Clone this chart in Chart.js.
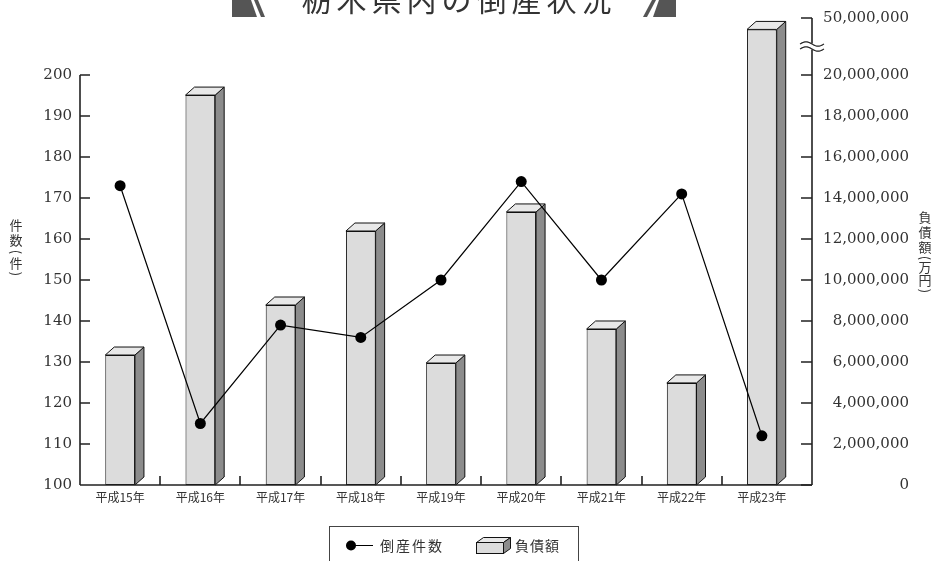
<!DOCTYPE html>
<html><head><meta charset="utf-8">
<script src="https://cdn.jsdelivr.net/npm/chart.js@4/dist/chart.umd.min.js"></script>
<style>html,body{margin:0;padding:0;background:#fff;}#wrap{width:942px;height:561px;position:relative;overflow:hidden}</style>
</head><body><div id="wrap"><canvas id="c" width="942" height="561"></canvas></div>
<script>
// ---- data ----
const categories = ['平成15年','平成16年','平成17年','平成18年','平成19年','平成20年','平成21年','平成22年','平成23年'];
const bankruptcyCounts = [173, 115, 139, 136, 150, 174, 150, 171, 112];
const debtAmounts = [6340000, 19020000, 8780000, 12390000, 5950000, 13320000, 7610000, 4980000, 44000000];
const leftTicks = [100,110,120,130,140,150,160,170,180,190,200];
const rightTicks = [0,2000000,4000000,6000000,8000000,10000000,12000000,14000000,16000000,18000000,20000000,50000000];
const titleText = '栃木県内の倒産状況';
const leftAxisTitle = ['件','数','(','件',')'];
const rightAxisTitle = ['負','債','額','(','万','円',')'];
const legendLabels = ['倒産件数','負債額'];

// broken right axis: values above 20,000,000 are compressed
const BREAK_FROM = 20000000, BREAK_TO = 50000000, BREAK_SHOWN = 22780000;
const K = (BREAK_SHOWN - BREAK_FROM) / (BREAK_TO - BREAK_FROM);
function toDisplay(v){ return v <= BREAK_FROM ? v : BREAK_FROM + (v - BREAK_FROM) * K; }
function fromDisplay(d){ return d <= BREAK_FROM ? d : BREAK_FROM + (d - BREAK_FROM) / K; }

const NUM_FONT = {family: '"DejaVu Serif", serif', size: 15};
const JP = '"Noto Sans CJK JP", sans-serif';
const DX = 9, DY = 8;

const deco = {
  id: 'deco',
  afterDatasetDraw(chart, args) {
    if (args.meta.type !== 'bar') return;
    const ctx = chart.ctx;
    ctx.save();
    ctx.lineWidth = 1;
    ctx.strokeStyle = '#111';
    args.meta.data.forEach(bar => {
      const p = bar.getProps(['x','y','base','width'], true);
      const l = p.x - p.width/2, r = p.x + p.width/2, t = p.y, b = p.base;
      ctx.beginPath();
      ctx.moveTo(r, t); ctx.lineTo(r+DX, t-DY); ctx.lineTo(r+DX, b-DY); ctx.lineTo(r, b); ctx.closePath();
      ctx.fillStyle = '#8c8c8c'; ctx.fill(); ctx.stroke();
      ctx.beginPath();
      ctx.moveTo(l, t); ctx.lineTo(l+DX, t-DY); ctx.lineTo(r+DX, t-DY); ctx.lineTo(r, t); ctx.closePath();
      ctx.fillStyle = '#e8e8e8'; ctx.fill(); ctx.stroke();
    });
    ctx.restore();
  },
  afterDraw(chart) {
    const ctx = chart.ctx;
    const ca = chart.chartArea;
    const xs = chart.scales.x, yl = chart.scales.y, yr = chart.scales.y1;
    const axisX = Math.round(ca.right) + 10;
    const bottom = Math.round(ca.bottom);
    ctx.save();
    ctx.strokeStyle = '#222';
    ctx.lineWidth = 1.6;
    // left axis
    const lx = Math.round(ca.left);
    ctx.beginPath();
    ctx.moveTo(lx, yl.getPixelForValue(200)); ctx.lineTo(lx, bottom);
    leftTicks.forEach(v => { const y = Math.round(yl.getPixelForValue(v)); ctx.moveTo(lx, y); ctx.lineTo(lx+10, y); });
    // bottom axis
    ctx.moveTo(lx, bottom); ctx.lineTo(axisX, bottom);
    for (let i = 1; i < categories.length; i++) {
      const x = Math.round((xs.getPixelForValue(i-1) + xs.getPixelForValue(i)) / 2);
      ctx.moveTo(x, bottom); ctx.lineTo(x, bottom - 9);
    }
    ctx.stroke();
    // right axis with break
    const yTop = yr.getPixelForValue(toDisplay(BREAK_TO));
    const yBr = (yr.getPixelForValue(BREAK_FROM) + yTop) / 2;
    ctx.beginPath();
    ctx.moveTo(axisX, yTop); ctx.lineTo(axisX, yBr - 3);
    ctx.moveTo(axisX, yBr + 3); ctx.lineTo(axisX, bottom);
    rightTicks.forEach(v => { const y = Math.round(yr.getPixelForValue(toDisplay(v))); ctx.moveTo(axisX-11, y); ctx.lineTo(axisX, y); });
    ctx.stroke();
    ctx.lineWidth = 1.2;
    [-2.5, 2.5].forEach(off => {
      ctx.beginPath();
      for (let i = 0; i <= 24; i++) {
        const x = axisX - 12 + i;
        const y = yBr + off - 2.2 * Math.sin(i / 24 * Math.PI * 2);
        if (i === 0) ctx.moveTo(x, y); else ctx.lineTo(x, y);
      }
      ctx.stroke();
    });
    // title decorations
    ctx.fillStyle = '#555';
    const poly = pts => { ctx.beginPath(); pts.forEach((p,i)=> i? ctx.lineTo(p[0],p[1]) : ctx.moveTo(p[0],p[1])); ctx.closePath(); ctx.fill(); };
    poly([[232,0],[251,0],[257,17],[232,17]]);
    poly([[254,0],[258,0],[265,17],[261,17]]);
    poly([[652,0],[656,0],[647,17],[643,17]]);
    poly([[659,0],[676,0],[676,17],[653,17]]);
    // title
    ctx.fillStyle = '#333';
    ctx.font = '30px ' + JP;
    ctx.textAlign = 'center';
    ctx.textBaseline = 'alphabetic';
    ctx.letterSpacing = '5px';
    ctx.fillText(titleText, 459, 11);
    ctx.letterSpacing = '0px';
    // axis titles (vertical)
    const vert = (chars, x, ys) => {
      chars.forEach((ch, i) => {
        ctx.save();
        ctx.translate(x, ys[i]);
        if (ch === '(' || ch === ')') ctx.rotate(Math.PI/2);
        ctx.textAlign = 'center'; ctx.textBaseline = 'middle';
        ctx.fillText(ch, 0, 0);
        ctx.restore();
      });
    };
    ctx.font = '13px ' + JP;
    ctx.fillStyle = '#333';
    vert(leftAxisTitle, 16, [225, 240, 252, 263, 274]);
    vert(rightAxisTitle, 925, [217, 232, 247, 258, 267, 280, 291]);
    // legend
    ctx.strokeStyle = '#444'; ctx.lineWidth = 1;
    ctx.strokeRect(329.5, 526.5, 249, 60);
    ctx.strokeStyle = '#000'; ctx.lineWidth = 1;
    ctx.beginPath(); ctx.moveTo(351, 545.5); ctx.lineTo(373, 545.5); ctx.stroke();
    ctx.fillStyle = '#000';
    ctx.beginPath(); ctx.arc(351, 545.5, 5, 0, Math.PI*2); ctx.fill();
    ctx.fillStyle = '#333';
    ctx.font = '14px ' + JP;
    ctx.textAlign = 'left'; ctx.textBaseline = 'middle';
    ctx.letterSpacing = '2px';
    ctx.fillText(legendLabels[0], 380, 546);
    ctx.letterSpacing = '1px';
    ctx.fillText(legendLabels[1], 515, 546);
    ctx.letterSpacing = '0px';
    // legend box icon
    ctx.strokeStyle = '#111';
    const fl = 476.5, fr = 503.5, ft = 542.5, fb = 553.5, dx = 7, dy = 5;
    ctx.fillStyle = '#dcdcdc'; ctx.fillRect(fl, ft, fr-fl, fb-ft); ctx.strokeRect(fl, ft, fr-fl, fb-ft);
    ctx.beginPath(); ctx.moveTo(fl, ft); ctx.lineTo(fl+dx, ft-dy); ctx.lineTo(fr+dx, ft-dy); ctx.lineTo(fr, ft); ctx.closePath();
    ctx.fillStyle = '#e8e8e8'; ctx.fill(); ctx.stroke();
    ctx.beginPath(); ctx.moveTo(fr, ft); ctx.lineTo(fr+dx, ft-dy); ctx.lineTo(fr+dx, fb-dy); ctx.lineTo(fr, fb); ctx.closePath();
    ctx.fillStyle = '#8c8c8c'; ctx.fill(); ctx.stroke();
    ctx.restore();
  }
};

new Chart(document.getElementById('c'), {
  type: 'bar',
  data: {
    labels: categories,
    datasets: [
      {
        type: 'line', label: legendLabels[0], data: bankruptcyCounts, yAxisID: 'y',
        borderColor: '#000', borderWidth: 1.2, tension: 0,
        pointRadius: 5.5, pointBackgroundColor: '#000', pointBorderWidth: 0,
        order: 1, clip: false
      },
      {
        type: 'bar', label: legendLabels[1], data: debtAmounts.map(toDisplay), yAxisID: 'y1',
        backgroundColor: '#dcdcdc', borderColor: '#111', borderWidth: 1, borderSkipped: false,
        barPercentage: 0.37, categoryPercentage: 1, order: 2, clip: false
      }
    ]
  },
  options: {
    responsive: false, animation: false, devicePixelRatio: 1,
    layout: {padding: {top: 75, left: 0, right: 33, bottom: 0}},
    plugins: {legend: {display: false}, tooltip: {enabled: false}, title: {display: false}},
    scales: {
      x: {
        offset: true,
        grid: {display: false, drawTicks: false}, border: {display: false},
        ticks: {font: {family: JP, size: 12}, color: '#333', padding: 5, maxRotation: 0, autoSkip: false},
        afterFit: s => { s.height = 76; }
      },
      y: {
        position: 'left', min: 100, max: 200,
        grid: {display: false, drawTicks: false}, border: {display: false},
        ticks: {stepSize: 10, font: NUM_FONT, color: '#333', padding: 8},
        afterFit: s => { s.width = 80; }
      },
      y1: {
        position: 'right', min: 0, max: BREAK_FROM,
        grid: {display: false, drawTicks: false}, border: {display: false},
        afterBuildTicks: s => { s.ticks = rightTicks.map(v => ({value: toDisplay(v)})); },
        ticks: {
          font: NUM_FONT, color: '#333', padding: 20, crossAlign: 'far', autoSkip: false,
          callback: v => Math.round(fromDisplay(v)).toLocaleString('en-US')
        },
        afterFit: s => { s.width = 107; }
      }
    }
  },
  plugins: [deco]
});
</script>
</body></html>
